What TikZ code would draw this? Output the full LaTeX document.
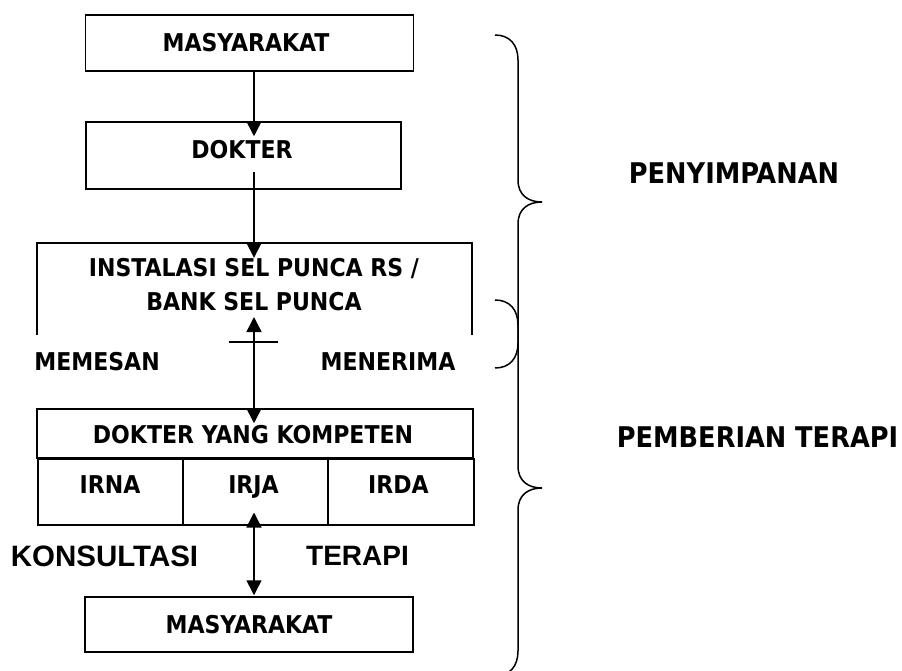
\documentclass[tikz,border=0pt]{standalone}
\usepackage{fontspec}
\setmainfont{DejaVu Sans Condensed}
\newfontfamily\arialfont{Liberation Sans}
\usetikzlibrary{arrows.meta}
\begin{document}
\begin{tikzpicture}[x=1pt,y=-1pt,
  lw/.style={line width=1.5pt},
  frame/.style={draw, line width=1.5pt, inner sep=0pt},
  boxtxt/.style={font=\fontsize{24.5}{28}\selectfont\bfseries, inner sep=0pt, text height=17.9pt, text depth=0pt},
  sidetxt/.style={font=\fontsize{28.5}{32}\selectfont\bfseries, inner sep=0pt, text height=20.8pt, text depth=0pt},
  ariallbl/.style={font=\arialfont\bfseries, inner sep=0pt, text depth=0pt},
  arr/.style={line width=1.5pt, -{Triangle[length=15pt,width=15pt]}},
  dbl/.style={line width=1.5pt, {Triangle[length=15pt,width=15pt]}-{Triangle[length=15pt,width=15pt]}},
  brace/.style={line width=1.5pt}]
\useasboundingbox (0,0) rectangle (902,671);
\clip (0,0) rectangle (902,671);

\coordinate (ax) at (254,0);

% top MASYARAKAT
\node[frame, minimum width=328pt, minimum height=56pt] (top) at (249.5,43) {};
\node[boxtxt] (topT) at (246,42.5) {MASYARAKAT};

% DOKTER
\node[frame, minimum width=315pt, minimum height=67pt] (dokter) at (243.5,155.5) {};
\node[boxtxt] (dokterT) at (242,150) {DOKTER};
\draw[arr, shorten >=-15pt] (top.south -| ax) -- (dokter.north -| ax);

% INSTALASI (open bottom)
\node[minimum width=435pt, minimum height=92pt, inner sep=0pt] (inst) at (254.5,289) {};
\draw[lw] (inst.south west) -- (inst.north west) -- (inst.north east) -- (inst.south east);
\node[font=\fontsize{24.5}{34}\selectfont\bfseries, inner sep=0pt, align=center] (instT) at (254,285) {INSTALASI SEL PUNCA RS /\\BANK SEL PUNCA};
\coordinate (dkout) at (254,172);
\draw[arr, shorten >=-15pt] (dkout) -- (inst.north -| ax);

% DOKTER YANG KOMPETEN
\node[frame, minimum width=436pt, minimum height=49pt] (dyk) at (255,433.5) {};
\node[boxtxt] (dykT) at (253,435) {DOKTER YANG KOMPETEN};
\coordinate (uptip) at (254,317);
\draw[dbl, shorten >=-15pt] (uptip) -- (dyk.north -| ax);
\coordinate (tickL) at (229,342);
\coordinate (tickR) at (278,342);
\draw[lw] (tickL) -- (tickR);

\node[boxtxt] (memesan) at (97,362) {MEMESAN};
\node[boxtxt] (menerima) at (388,362) {MENERIMA};

% cells
\node[frame, minimum width=145pt, minimum height=66pt, anchor=north west] (irna) at (37,458) {};
\node[frame, minimum width=145pt, minimum height=66pt, anchor=north west] (irja) at (182,458) {};
\node[frame, minimum width=146pt, minimum height=66pt, anchor=north west] (irda) at (327,458) {};
\node[boxtxt] (irnaT) at (110,485) {IRNA};
\node[boxtxt] (irjaT) at (253.5,485) {IRJA};
\node[boxtxt] (irdaT) at (398.5,485) {IRDA};

% bottom MASYARAKAT
\node[frame, minimum width=328pt, minimum height=55pt] (bot) at (249,624.5) {};
\node[boxtxt] (botT) at (249,625) {MASYARAKAT};
\draw[dbl, shorten <=-13pt, shorten >=1pt] (irja.south -| ax) -- (bot.north -| ax);

\node[ariallbl, font=\arialfont\bfseries\fontsize{29.5}{32}\selectfont, text height=21.1pt] (kons) at (104.5,555.5) {KONSULTASI};
\node[ariallbl, font=\arialfont\bfseries\fontsize{28}{32}\selectfont, text height=20pt] (terapi) at (357.5,555.5) {TERAPI};

% side labels
\node[sidetxt] (peny) at (734,173) {PENYIMPANAN};
\node[sidetxt] (pemb) at (757.5,437) {PEMBERIAN TERAPI};

% braces
\draw[brace] (495,35) .. controls (510,35) and (518,45) .. (518,60) -- (518,180)
  .. controls (518,195) and (528,202) .. (542,202)
  .. controls (528,202) and (518,209) .. (518,224) -- (518,343)
  .. controls (518,358) and (510,368) .. (495,368);
\draw[brace] (495,300) .. controls (510,300) and (518,310) .. (518,325) -- (518,466)
  .. controls (518,481) and (528,488) .. (542,488)
  .. controls (528,488) and (518,495) .. (518,510) -- (518,651)
  .. controls (518,666) and (510,676) .. (495,676);
\end{tikzpicture}
\end{document}
